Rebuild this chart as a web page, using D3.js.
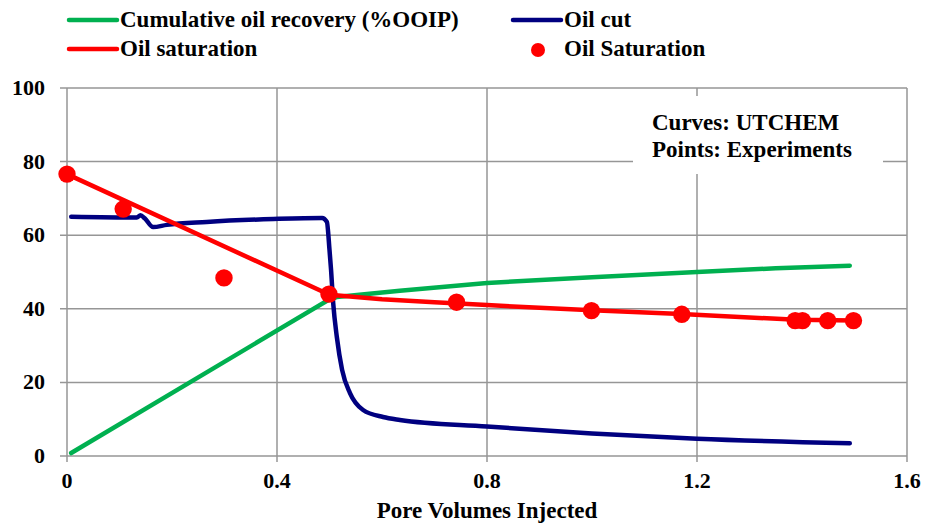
<!DOCTYPE html>
<html>
<head>
<meta charset="utf-8">
<script src="https://cdn.jsdelivr.net/npm/d3@7"></script>
<style>
  body { margin: 0; background: #fff; }
  svg { display: block; }
</style>
</head>
<body>
<svg width="931" height="526"></svg>
<script>
// cumulative oil recovery (%OOIP), UTCHEM
const pvRecovery = [0.008, 0.5, 0.514, 0.634, 0.8, 1.0, 1.2, 1.35, 1.491];
const recovery   = [0.8, 42.6, 43.2, 44.9, 47.0, 48.6, 50.0, 51.0, 51.7];

// oil cut, UTCHEM
const pvOilCut = [0.008, 0.133, 0.14, 0.148, 0.164, 0.19, 0.266, 0.393, 0.486, 0.495, 0.5, 0.503,
                  0.507, 0.514, 0.524, 0.539, 0.564, 0.602, 0.634, 0.8, 1.0, 1.2, 1.491];
const oilCut   = [65.0, 64.8, 65.4, 64.6, 62.2, 62.8, 63.6, 64.4, 64.7, 63.6, 56.0, 50.5,
                  41.6, 32.3, 23.4, 17.1, 12.5, 10.6, 9.8, 8.0, 6.1, 4.7, 3.45];

// oil saturation, UTCHEM
const pvSatCurve = [0, 0.5, 0.6, 0.7, 0.8, 1.0, 1.17, 1.39, 1.5];
const satCurve   = [76.6, 43.8, 42.6, 41.8, 41.0, 39.6, 38.6, 37.0, 36.8];

// oil saturation, experiments
const pvSatExp = [0, 0.107, 0.299, 0.499, 0.742, 0.999, 1.171, 1.387, 1.401, 1.449, 1.498];
const satExp   = [76.6, 67.1, 48.4, 44.0, 41.8, 39.5, 38.5, 36.8, 36.8, 36.8, 36.8];

const xTicks = [0, 0.4, 0.8, 1.2, 1.6];
const yTicks = [0, 20, 40, 60, 80, 100];
const legendLabels = ['Cumulative oil recovery (%OOIP)', 'Oil cut', 'Oil saturation', 'Oil Saturation'];
const noteLines = ['Curves: UTCHEM', 'Points: Experiments'];
const xTitle = 'Pore Volumes Injected';

const green = '#00b050', navy = '#000080', red = '#ff0000', grid = '#969696';
const font = 'Liberation Serif';

const svg = d3.select('svg');

const x = d3.scaleLinear().domain([0, 1.6]).range([67, 907]);
const y = d3.scaleLinear().domain([0, 100]).range([456, 88]);

const zip = (xs, ys) => xs.map((d, i) => [d, ys[i]]);
const styleText = sel => sel
  .attr('font-family', font)
  .attr('font-weight', 'bold')
  .attr('fill', '#000');

// grid
svg.append('g')
  .selectAll('line')
  .data(yTicks).enter()
  .append('line')
    .attr('x1', 60).attr('x2', x(1.6))
    .attr('y1', d => y(d)).attr('y2', d => y(d))
    .attr('stroke', grid).attr('stroke-width', 1.5);

svg.append('g')
  .selectAll('line')
  .data(xTicks).enter()
  .append('line')
    .attr('x1', d => x(d)).attr('x2', d => x(d))
    .attr('y1', y(100)).attr('y2', y(0) + 6)
    .attr('stroke', grid).attr('stroke-width', 1.5);

// tick labels
svg.append('g')
  .selectAll('text')
  .data(yTicks).enter()
  .append('text')
    .call(styleText)
    .attr('x', 45).attr('y', d => y(d) + 7)
    .attr('text-anchor', 'end')
    .attr('font-size', 22)
    .text(d => d);

svg.append('g')
  .selectAll('text')
  .data(xTicks).enter()
  .append('text')
    .call(styleText)
    .attr('x', d => x(d)).attr('y', 488)
    .attr('text-anchor', 'middle')
    .attr('font-size', 22)
    .text(d => d);

svg.append('text')
  .call(styleText)
  .attr('x', 487).attr('y', 518)
  .attr('text-anchor', 'middle')
  .attr('font-size', 23)
  .text(xTitle);

// note box
svg.append('rect')
  .attr('x', 633).attr('y', 96).attr('width', 250).attr('height', 78)
  .attr('fill', '#fff');
svg.append('g')
  .selectAll('text')
  .data(noteLines).enter()
  .append('text')
    .call(styleText)
    .attr('x', 652).attr('y', (d, i) => 130 + i * 27)
    .attr('font-size', 23)
    .text(d => d);

// curves
const line = d3.line().x(d => x(d[0])).y(d => y(d[1]));

svg.append('path')
  .datum(zip(pvRecovery, recovery))
  .attr('d', line)
  .attr('fill', 'none').attr('stroke', green).attr('stroke-width', 4.5)
  .attr('stroke-linecap', 'round');

svg.append('path')
  .datum(zip(pvOilCut, oilCut))
  .attr('d', line.curve(d3.curveMonotoneX))
  .attr('fill', 'none').attr('stroke', navy).attr('stroke-width', 4.5)
  .attr('stroke-linecap', 'round').attr('stroke-linejoin', 'round');

svg.append('path')
  .datum(zip(pvSatCurve, satCurve))
  .attr('d', line.curve(d3.curveLinear))
  .attr('fill', 'none').attr('stroke', red).attr('stroke-width', 4.5)
  .attr('stroke-linecap', 'round').attr('stroke-linejoin', 'round');

svg.append('g')
  .selectAll('circle')
  .data(zip(pvSatExp, satExp)).enter()
  .append('circle')
    .attr('cx', d => x(d[0])).attr('cy', d => y(d[1]))
    .attr('r', 8.7)
    .attr('fill', red);

// legend
const legend = svg.append('g');
const items = [
  { label: legendLabels[0], color: green, kind: 'line', lx: 69, ly: 20 },
  { label: legendLabels[1], color: navy, kind: 'line', lx: 513, ly: 20 },
  { label: legendLabels[2], color: red, kind: 'line', lx: 69, ly: 49 },
  { label: legendLabels[3], color: red, kind: 'dot', lx: 513, ly: 49 }
];
items.forEach(it => {
  if (it.kind === 'line') {
    legend.append('line')
      .attr('x1', it.lx).attr('x2', it.lx + 48)
      .attr('y1', it.ly).attr('y2', it.ly)
      .attr('stroke', it.color).attr('stroke-width', 4.5)
      .attr('stroke-linecap', 'round');
  } else {
    legend.append('circle')
      .attr('cx', it.lx + 25).attr('cy', it.ly + 1)
      .attr('r', 7)
      .attr('fill', it.color);
  }
  legend.append('text')
    .call(styleText)
    .attr('x', it.lx + 51)
    .attr('y', it.ly + 7)
    .attr('font-size', 23)
    .text(it.label);
});
</script>
</body>
</html>
